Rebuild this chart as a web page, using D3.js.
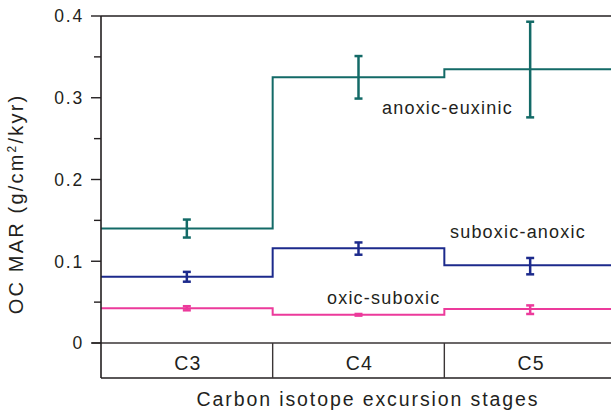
<!DOCTYPE html>
<html>
<head>
<meta charset="utf-8">
<script src="https://cdn.jsdelivr.net/npm/d3@7"></script>
<style>
  body { margin: 0; background: #fff; }
  text { font-family: "Liberation Sans", Arial, sans-serif; fill: #231f20; }
</style>
</head>
<body>
<script>
// stages along the x axis
var stages = ["C3", "C4", "C5"];
var yTicks = [0, 0.1, 0.2, 0.3, 0.4];
var yMinor = [0.05, 0.15, 0.25, 0.35];

// OC MAR per stage, with error bar ends
var anoxicVal = [0.140, 0.325, 0.335];
var anoxicHi = [0.151, 0.351, 0.393];
var anoxicLo = [0.129, 0.299, 0.276];

var suboxicVal = [0.081, 0.116, 0.095];
var suboxicHi = [0.087, 0.123, 0.104];
var suboxicLo = [0.075, 0.108, 0.084];

var oxicVal = [0.0425, 0.0345, 0.0415];
var oxicHi = [0.0450, 0.0355, 0.0460];
var oxicLo = [0.0400, 0.0335, 0.0355];

var width = 611, height = 414;
var ink = "#231f20";

var svg = d3.select("body").append("svg")
	.attr("width", width)
	.attr("height", height);

var x = d3.scaleBand().domain(stages).range([101, 616]).padding(0);
var y = d3.scaleLinear().domain([0, 0.4]).range([343, 16]);
var boxBottom = 378;

// series
var series = [
	{ name: "anoxic-euxinic", color: "#136a67", val: anoxicVal, hi: anoxicHi, lo: anoxicLo, lx: 382, ly: 114 },
	{ name: "suboxic-anoxic", color: "#1c2a8c", val: suboxicVal, hi: suboxicHi, lo: suboxicLo, lx: 450, ly: 238 },
	{ name: "oxic-suboxic", color: "#ec3a9b", val: oxicVal, hi: oxicHi, lo: oxicLo, lx: 327, ly: 304 }
];

var line = d3.line().x(function (d) { return d[0]; }).y(function (d) { return d[1]; });

series.forEach(function (s) {
	var pts = [];
	stages.forEach(function (st, i) {
		pts.push([x(st), y(s.val[i])]);
		pts.push([x(st) + x.bandwidth(), y(s.val[i])]);
	});
	svg.append("path")
		.attr("d", line(pts))
		.attr("fill", "none")
		.attr("stroke", s.color)
		.attr("stroke-width", 2);

	var eb = svg.append("g").attr("stroke", s.color).attr("stroke-width", 2.5);
	stages.forEach(function (st, i) {
		var cx = x(st) + x.bandwidth() / 2;
		eb.append("line")
			.attr("x1", cx).attr("x2", cx)
			.attr("y1", y(s.hi[i])).attr("y2", y(s.lo[i]));
		eb.append("line")
			.attr("x1", cx - 4).attr("x2", cx + 4)
			.attr("y1", y(s.hi[i])).attr("y2", y(s.hi[i]));
		eb.append("line")
			.attr("x1", cx - 4).attr("x2", cx + 4)
			.attr("y1", y(s.lo[i])).attr("y2", y(s.lo[i]));
	});

	svg.append("text")
		.attr("x", s.lx).attr("y", s.ly)
		.style("font-size", "18px")
		.style("letter-spacing", "1.2px")
		.text(s.name);
});

// frame: top line, zero line, stage box
svg.append("line").attr("x1", 101).attr("x2", width).attr("y1", y(0.4)).attr("y2", y(0.4))
	.attr("stroke", ink).attr("stroke-width", 1.6);
svg.append("line").attr("x1", 92).attr("x2", width).attr("y1", y(0)).attr("y2", y(0))
	.attr("stroke", "#3a3536").attr("stroke-width", 1.4);
svg.append("line").attr("x1", 101).attr("x2", width).attr("y1", boxBottom).attr("y2", boxBottom)
	.attr("stroke", ink).attr("stroke-width", 1.6);
svg.append("line").attr("x1", 101).attr("x2", 101).attr("y1", y(0.4)).attr("y2", boxBottom)
	.attr("stroke", ink).attr("stroke-width", 1.6);

stages.forEach(function (st, i) {
	if (i > 0) {
		svg.append("line").attr("x1", x(st)).attr("x2", x(st))
			.attr("y1", y(0)).attr("y2", boxBottom)
			.attr("stroke", "#3a3536").attr("stroke-width", 1.4);
	}
	svg.append("text")
		.attr("x", x(st) + x.bandwidth() / 2 + 1)
		.attr("y", 370)
		.attr("text-anchor", "middle")
		.style("font-size", "19.5px")
		.style("letter-spacing", "1.2px")
		.text(st);
});

// y axis ticks
svg.selectAll(".major").data(yTicks).enter().append("line")
	.attr("x1", 91).attr("x2", 101)
	.attr("y1", function (d) { return y(d); }).attr("y2", function (d) { return y(d); })
	.attr("stroke", ink).attr("stroke-width", 1.4);
svg.selectAll(".minor").data(yMinor).enter().append("line")
	.attr("x1", 94).attr("x2", 101)
	.attr("y1", function (d) { return y(d); }).attr("y2", function (d) { return y(d); })
	.attr("stroke", ink).attr("stroke-width", 1.4);
svg.selectAll(".ylab").data(yTicks).enter().append("text")
	.attr("x", 84)
	.attr("y", function (d) { return y(d); })
	.attr("dy", "0.36em")
	.attr("text-anchor", "end")
	.style("font-size", "17.5px")
	.style("letter-spacing", "1.8px")
	.text(function (d) { return d === 0 ? "0" : d3.format(".1f")(d); });

// axis titles
var yt = svg.append("text")
	.attr("transform", "translate(23,204) rotate(-90)")
	.attr("text-anchor", "middle")
	.style("font-size", "20px")
	.style("letter-spacing", "2.2px");
yt.append("tspan").text("OC MAR (g/cm");
yt.append("tspan").attr("dy", -7).style("font-size", "12px").text("2");
yt.append("tspan").attr("dy", 7).text("/kyr)");

svg.append("text")
	.attr("x", 368).attr("y", 406)
	.attr("text-anchor", "middle")
	.style("font-size", "19.5px")
	.style("letter-spacing", "1.9px")
	.text("Carbon isotope excursion stages");
</script>
</body>
</html>
